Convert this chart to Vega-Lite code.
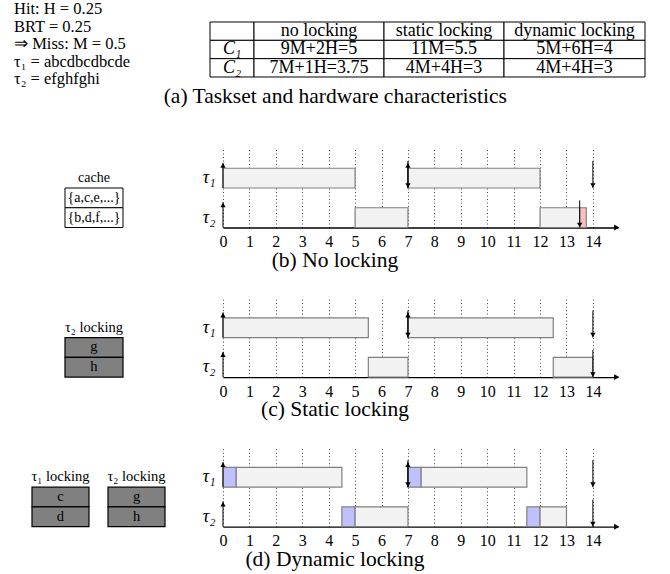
{
  "$schema": "https://vega.github.io/schema/vega-lite/v6.json",
  "background": "white",
  "padding": 0,
  "config": {
    "view": {"stroke": null, "fill": "white"},
    "font": "Liberation Serif",
    "text": {"font": "Liberation Serif", "color": "black"},
    "title": {"font": "Liberation Serif", "fontWeight": "normal", "color": "black", "fontSize": 21.5},
    "axisX": {"grid": true, "gridDash": [1, 2.5], "gridColor": "#444", "gridWidth": 1, "domainColor": "black", "domainWidth": 1.3, "ticks": false, "tickSize": 0, "tickCount": 15, "labelPadding": 6, "labelFontSize": 16, "labelFont": "Liberation Serif", "labelColor": "black", "labelFlush": false, "labelOverlap": false, "zindex": 1},
    "axisY": {"domain": false, "ticks": false, "tickSize": 0, "grid": false, "labelPadding": 8, "labelFontSize": 18, "labelFontStyle": "italic", "labelFont": "Liberation Serif", "labelColor": "black"}
  },
  "datasets": {
    "lines": [
      {"i": 1, "text": "Hit: H = 0.25"},
      {"i": 2, "text": "BRT = 0.25"},
      {"i": 3, "text": "⇒ Miss: M = 0.5"},
      {"i": 4, "text": "τ₁ = abcdbcdbcde"},
      {"i": 5, "text": "τ₂ = efghfghi"}
    ],
    "table": [
      {"row": "h", "col": 0, "text": ""},
      {"row": "c1", "col": 0, "text": "C₁"},
      {"row": "c2", "col": 0, "text": "C₂"},
      {"row": "h", "col": 1, "text": "no locking"},
      {"row": "c1", "col": 1, "text": "9M+2H=5"},
      {"row": "c2", "col": 1, "text": "7M+1H=3.75"},
      {"row": "h", "col": 2, "text": "static locking"},
      {"row": "c1", "col": 2, "text": "11M=5.5"},
      {"row": "c2", "col": 2, "text": "4M+4H=3"},
      {"row": "h", "col": 3, "text": "dynamic locking"},
      {"row": "c1", "col": 3, "text": "5M+6H=4"},
      {"row": "c2", "col": 3, "text": "4M+4H=3"}
    ],
    "bars": [
      {"panel": "b", "task": "τ₁", "t": 0, "t2": 5, "kind": "normal"},
      {"panel": "b", "task": "τ₁", "t": 7, "t2": 12, "kind": "normal"},
      {"panel": "b", "task": "τ₂", "t": 5, "t2": 7, "kind": "normal"},
      {"panel": "b", "task": "τ₂", "t": 12, "t2": 13.5, "kind": "normal"},
      {"panel": "b", "task": "τ₂", "t": 13.5, "t2": 13.75, "kind": "miss"},
      {"panel": "c", "task": "τ₁", "t": 0, "t2": 5.5, "kind": "normal"},
      {"panel": "c", "task": "τ₁", "t": 7, "t2": 12.5, "kind": "normal"},
      {"panel": "c", "task": "τ₂", "t": 5.5, "t2": 7, "kind": "normal"},
      {"panel": "c", "task": "τ₂", "t": 12.5, "t2": 14, "kind": "normal"},
      {"panel": "d", "task": "τ₁", "t": 0, "t2": 0.5, "kind": "lock"},
      {"panel": "d", "task": "τ₁", "t": 0.5, "t2": 4.5, "kind": "normal"},
      {"panel": "d", "task": "τ₁", "t": 7, "t2": 7.5, "kind": "lock"},
      {"panel": "d", "task": "τ₁", "t": 7.5, "t2": 11.5, "kind": "normal"},
      {"panel": "d", "task": "τ₂", "t": 4.5, "t2": 5, "kind": "lock"},
      {"panel": "d", "task": "τ₂", "t": 5, "t2": 7, "kind": "normal"},
      {"panel": "d", "task": "τ₂", "t": 11.5, "t2": 12, "kind": "lock"},
      {"panel": "d", "task": "τ₂", "t": 12, "t2": 13, "kind": "normal"}
    ],
    "events": [
      {"panel": "b", "task": "τ₁", "t": 0, "kind": "release"},
      {"panel": "b", "task": "τ₁", "t": 7, "kind": "release"},
      {"panel": "b", "task": "τ₁", "t": 7, "kind": "deadline"},
      {"panel": "b", "task": "τ₁", "t": 14, "kind": "deadline"},
      {"panel": "b", "task": "τ₂", "t": 0, "kind": "release"},
      {"panel": "b", "task": "τ₂", "t": 13.5, "kind": "deadline"},
      {"panel": "c", "task": "τ₁", "t": 0, "kind": "release"},
      {"panel": "c", "task": "τ₁", "t": 7, "kind": "release"},
      {"panel": "c", "task": "τ₁", "t": 7, "kind": "deadline"},
      {"panel": "c", "task": "τ₁", "t": 14, "kind": "deadline"},
      {"panel": "c", "task": "τ₂", "t": 0, "kind": "release"},
      {"panel": "c", "task": "τ₂", "t": 14, "kind": "deadline"},
      {"panel": "d", "task": "τ₁", "t": 0, "kind": "release"},
      {"panel": "d", "task": "τ₁", "t": 7, "kind": "release"},
      {"panel": "d", "task": "τ₁", "t": 7, "kind": "deadline"},
      {"panel": "d", "task": "τ₁", "t": 14, "kind": "deadline"},
      {"panel": "d", "task": "τ₂", "t": 0, "kind": "release"},
      {"panel": "d", "task": "τ₂", "t": 14, "kind": "deadline"}
    ],
    "cache": [
      {"panel": "b", "block": "cache", "slot": "title", "label": "cache"},
      {"panel": "b", "block": "cache", "slot": "top", "label": "{a,c,e,...}"},
      {"panel": "b", "block": "cache", "slot": "bottom", "label": "{b,d,f,...}"},
      {"panel": "c", "block": "τ₂ locking", "slot": "title", "label": "τ₂ locking"},
      {"panel": "c", "block": "τ₂ locking", "slot": "top", "label": "g"},
      {"panel": "c", "block": "τ₂ locking", "slot": "bottom", "label": "h"},
      {"panel": "d", "block": "τ₁ locking", "slot": "title", "label": "τ₁ locking"},
      {"panel": "d", "block": "τ₁ locking", "slot": "top", "label": "c"},
      {"panel": "d", "block": "τ₁ locking", "slot": "bottom", "label": "d"},
      {"panel": "d", "block": "τ₂ locking", "slot": "title", "label": "τ₂ locking"},
      {"panel": "d", "block": "τ₂ locking", "slot": "top", "label": "g"},
      {"panel": "d", "block": "τ₂ locking", "slot": "bottom", "label": "h"}
    ]
  },
  "spacing": 40.5,
  "vconcat": [
    {
      "spacing": 0,
      "bounds": "flush",
      "title": {"text": "(a) Taskset and hardware characteristics", "orient": "bottom", "anchor": "middle", "frame": "bounds", "offset": -1.5, "dx": 12.5},
      "hconcat": [
        {
          "width": 210, "height": 79.4,
          "data": {"name": "lines"},
          "mark": {"type": "text", "align": "left", "baseline": "middle", "fontSize": 16.5},
          "encoding": {
            "y": {"field": "i", "type": "ordinal", "scale": {"type": "point", "padding": 0.269, "align": 1}, "axis": null},
            "x": {"value": 14},
            "text": {"field": "text"}
          }
        },
        {
          "width": 44, "height": 79.4,
          "data": {"name": "table"},
          "transform": [{"filter": "datum.col === 0"}],
          "encoding": {
            "x": {"field": "col", "type": "nominal", "scale": {"type": "band", "paddingInner": 0, "paddingOuter": 0}, "axis": null},
            "y": {"field": "row", "type": "nominal", "scale": {"type": "band", "domain": ["h", "c1", "c2"], "paddingInner": 0, "paddingOuter": 0.6655, "align": 0.9016}, "axis": null}
          },
          "layer": [
            {"mark": {"type": "rect", "fill": "white", "stroke": "black", "strokeWidth": 1}},
            {"mark": {"type": "text", "fontSize": 18, "fontStyle": "italic", "baseline": "middle"}, "encoding": {"text": {"field": "text"}}}
          ]
        },
        {
          "width": 130, "height": 79.4,
          "data": {"name": "table"},
          "transform": [{"filter": "datum.col === 1"}],
          "encoding": {
            "x": {"field": "col", "type": "nominal", "scale": {"type": "band", "paddingInner": 0, "paddingOuter": 0}, "axis": null},
            "y": {"field": "row", "type": "nominal", "scale": {"type": "band", "domain": ["h", "c1", "c2"], "paddingInner": 0, "paddingOuter": 0.6655, "align": 0.9016}, "axis": null}
          },
          "layer": [
            {"mark": {"type": "rect", "fill": "white", "stroke": "black", "strokeWidth": 1}},
            {"mark": {"type": "text", "fontSize": 18, "baseline": "middle"}, "encoding": {"text": {"field": "text"}}}
          ]
        },
        {
          "width": 120, "height": 79.4,
          "data": {"name": "table"},
          "transform": [{"filter": "datum.col === 2"}],
          "encoding": {
            "x": {"field": "col", "type": "nominal", "scale": {"type": "band", "paddingInner": 0, "paddingOuter": 0}, "axis": null},
            "y": {"field": "row", "type": "nominal", "scale": {"type": "band", "domain": ["h", "c1", "c2"], "paddingInner": 0, "paddingOuter": 0.6655, "align": 0.9016}, "axis": null}
          },
          "layer": [
            {"mark": {"type": "rect", "fill": "white", "stroke": "black", "strokeWidth": 1}},
            {"mark": {"type": "text", "fontSize": 18, "baseline": "middle"}, "encoding": {"text": {"field": "text"}}}
          ]
        },
        {
          "width": 141, "height": 79.4,
          "data": {"name": "table"},
          "transform": [{"filter": "datum.col === 3"}],
          "encoding": {
            "x": {"field": "col", "type": "nominal", "scale": {"type": "band", "paddingInner": 0, "paddingOuter": 0}, "axis": null},
            "y": {"field": "row", "type": "nominal", "scale": {"type": "band", "domain": ["h", "c1", "c2"], "paddingInner": 0, "paddingOuter": 0.6655, "align": 0.9016}, "axis": null}
          },
          "layer": [
            {"mark": {"type": "rect", "fill": "white", "stroke": "black", "strokeWidth": 1}},
            {"mark": {"type": "text", "fontSize": 18, "baseline": "middle"}, "encoding": {"text": {"field": "text"}}}
          ]
        }
      ]
    },
    {
      "spacing": 26.6,
      "vconcat": [
        {
          "spacing": 26,
          "bounds": "flush",
          "hconcat": [
            {
              "width": 197, "height": 79,
              "data": {"name": "cache"},
              "transform": [{"filter": "datum.panel === 'b'"}],
              "encoding": {
                "x": {"field": "block", "type": "nominal", "scale": {"type": "band", "paddingInner": 0.1655, "paddingOuter": 1, "align": 0.4676}, "axis": null},
                "y": {"field": "slot", "type": "nominal", "scale": {"type": "band", "domain": ["title", "top", "bottom"], "paddingInner": 0, "paddingOuter": 0.5, "align": 1}, "axis": null}
              },
              "layer": [
                {"transform": [{"filter": "datum.slot !== 'title'"}], "mark": {"type": "rect", "fill": "white", "stroke": "black", "strokeWidth": 1}},
                {"mark": {"type": "text", "fontSize": 14, "baseline": "middle"}, "encoding": {"text": {"field": "label"}}}
              ]
            },
            {
              "width": 395, "height": 79,
              "title": {"text": "(b) No locking", "orient": "bottom", "anchor": "middle", "frame": "group", "offset": 0, "dx": -85.5},
              "layer": [
                {
                  "data": {"name": "bars"},
                  "transform": [{"filter": "datum.panel === 'b'"}],
                  "mark": {"type": "rect", "stroke": "#808080", "strokeWidth": 1.2},
                  "encoding": {
                    "x": {"field": "t", "type": "quantitative", "scale": {"domain": [0, 14.95], "nice": false, "zero": false}, "axis": {"title": null}},
                    "x2": {"field": "t2"},
                    "y": {"field": "task", "type": "nominal", "scale": {"type": "band", "domain": ["τ₁", "τ₂"], "paddingInner": 0.5, "paddingOuter": 0.25, "align": 1}, "axis": {"title": null}},
                    "fill": {"field": "kind", "type": "nominal", "scale": {"domain": ["normal", "miss", "lock"], "range": ["#f2f2f2", "#ffbfbf", "#c0c0ff"]}, "legend": null}
                  }
                },
                {
                  "data": {"name": "events"},
                  "transform": [{"filter": "datum.panel === 'b' && datum.kind === 'release'"}],
                  "mark": {"type": "rule", "color": "black", "strokeWidth": 1},
                  "encoding": {"x": {"field": "t", "type": "quantitative", "axis": {"title": null}}, "y": {"field": "task", "type": "nominal", "bandPosition": 1, "axis": {"title": null}}, "y2": {"field": "task", "bandPosition": -0.28}}
                },
                {
                  "data": {"name": "events"},
                  "transform": [{"filter": "datum.panel === 'b' && datum.kind === 'release'"}],
                  "mark": {"type": "point", "shape": "triangle-up", "filled": true, "color": "black", "opacity": 1, "size": 28},
                  "encoding": {"x": {"field": "t", "type": "quantitative", "axis": {"title": null}}, "y": {"field": "task", "type": "nominal", "bandPosition": -0.14, "axis": {"title": null}}}
                },
                {
                  "data": {"name": "events"},
                  "transform": [{"filter": "datum.panel === 'b' && datum.kind === 'deadline'"}],
                  "mark": {"type": "rule", "color": "black", "strokeWidth": 1},
                  "encoding": {"x": {"field": "t", "type": "quantitative", "axis": {"title": null}}, "y": {"field": "task", "type": "nominal", "bandPosition": -0.37, "axis": {"title": null}}, "y2": {"field": "task", "bandPosition": 1}}
                },
                {
                  "data": {"name": "events"},
                  "transform": [{"filter": "datum.panel === 'b' && datum.kind === 'deadline'"}],
                  "mark": {"type": "point", "shape": "triangle-down", "filled": true, "color": "black", "opacity": 1, "size": 28},
                  "encoding": {"x": {"field": "t", "type": "quantitative", "axis": {"title": null}}, "y": {"field": "task", "type": "nominal", "bandPosition": 0.87, "axis": {"title": null}}}
                },
                {
                  "data": {"values": [{}]},
                  "mark": {"type": "point", "shape": "triangle-right", "filled": true, "color": "black", "opacity": 1, "size": 35},
                  "encoding": {"x": {"datum": 14.9, "axis": {"title": null}}, "y": {"datum": "τ₂", "bandPosition": 1, "axis": {"title": null}}}
                }
              ]
            }
          ]
        },
        {
          "spacing": 26,
          "bounds": "flush",
          "hconcat": [
            {
              "width": 197, "height": 79,
              "data": {"name": "cache"},
              "transform": [{"filter": "datum.panel === 'c'"}],
              "encoding": {
                "x": {"field": "block", "type": "nominal", "scale": {"type": "band", "paddingInner": 0.1655, "paddingOuter": 1, "align": 0.4676}, "axis": null},
                "y": {"field": "slot", "type": "nominal", "scale": {"type": "band", "domain": ["title", "top", "bottom"], "paddingInner": 0, "paddingOuter": 0.5, "align": 1}, "axis": null}
              },
              "layer": [
                {"transform": [{"filter": "datum.slot !== 'title'"}], "mark": {"type": "rect", "fill": "#808080", "stroke": "black", "strokeWidth": 1.2}},
                {"mark": {"type": "text", "fontSize": 14.5, "baseline": "middle"}, "encoding": {"text": {"field": "label"}}}
              ]
            },
            {
              "width": 395, "height": 79,
              "title": {"text": "(c) Static locking", "orient": "bottom", "anchor": "middle", "frame": "group", "offset": 0, "dx": -85.5},
              "layer": [
                {
                  "data": {"name": "bars"},
                  "transform": [{"filter": "datum.panel === 'c'"}],
                  "mark": {"type": "rect", "stroke": "#808080", "strokeWidth": 1.2},
                  "encoding": {
                    "x": {"field": "t", "type": "quantitative", "scale": {"domain": [0, 14.95], "nice": false, "zero": false}, "axis": {"title": null}},
                    "x2": {"field": "t2"},
                    "y": {"field": "task", "type": "nominal", "scale": {"type": "band", "domain": ["τ₁", "τ₂"], "paddingInner": 0.5, "paddingOuter": 0.25, "align": 1}, "axis": {"title": null}},
                    "fill": {"field": "kind", "type": "nominal", "scale": {"domain": ["normal", "miss", "lock"], "range": ["#f2f2f2", "#ffbfbf", "#c0c0ff"]}, "legend": null}
                  }
                },
                {
                  "data": {"name": "events"},
                  "transform": [{"filter": "datum.panel === 'c' && datum.kind === 'release'"}],
                  "mark": {"type": "rule", "color": "black", "strokeWidth": 1},
                  "encoding": {"x": {"field": "t", "type": "quantitative", "axis": {"title": null}}, "y": {"field": "task", "type": "nominal", "bandPosition": 1, "axis": {"title": null}}, "y2": {"field": "task", "bandPosition": -0.28}}
                },
                {
                  "data": {"name": "events"},
                  "transform": [{"filter": "datum.panel === 'c' && datum.kind === 'release'"}],
                  "mark": {"type": "point", "shape": "triangle-up", "filled": true, "color": "black", "opacity": 1, "size": 28},
                  "encoding": {"x": {"field": "t", "type": "quantitative", "axis": {"title": null}}, "y": {"field": "task", "type": "nominal", "bandPosition": -0.14, "axis": {"title": null}}}
                },
                {
                  "data": {"name": "events"},
                  "transform": [{"filter": "datum.panel === 'c' && datum.kind === 'deadline'"}],
                  "mark": {"type": "rule", "color": "black", "strokeWidth": 1},
                  "encoding": {"x": {"field": "t", "type": "quantitative", "axis": {"title": null}}, "y": {"field": "task", "type": "nominal", "bandPosition": -0.37, "axis": {"title": null}}, "y2": {"field": "task", "bandPosition": 1}}
                },
                {
                  "data": {"name": "events"},
                  "transform": [{"filter": "datum.panel === 'c' && datum.kind === 'deadline'"}],
                  "mark": {"type": "point", "shape": "triangle-down", "filled": true, "color": "black", "opacity": 1, "size": 28},
                  "encoding": {"x": {"field": "t", "type": "quantitative", "axis": {"title": null}}, "y": {"field": "task", "type": "nominal", "bandPosition": 0.87, "axis": {"title": null}}}
                },
                {
                  "data": {"values": [{}]},
                  "mark": {"type": "point", "shape": "triangle-right", "filled": true, "color": "black", "opacity": 1, "size": 35},
                  "encoding": {"x": {"datum": 14.9, "axis": {"title": null}}, "y": {"datum": "τ₂", "bandPosition": 1, "axis": {"title": null}}}
                }
              ]
            }
          ]
        },
        {
          "spacing": 26,
          "bounds": "flush",
          "hconcat": [
            {
              "width": 197, "height": 79,
              "data": {"name": "cache"},
              "transform": [{"filter": "datum.panel === 'd'"}],
              "encoding": {
                "x": {"field": "block", "type": "nominal", "scale": {"type": "band", "domain": ["τ₁ locking", "τ₂ locking"], "paddingInner": 0.25, "paddingOuter": 0.421, "align": 0.5}, "axis": null},
                "y": {"field": "slot", "type": "nominal", "scale": {"type": "band", "domain": ["title", "top", "bottom"], "paddingInner": 0, "paddingOuter": 0.5, "align": 1}, "axis": null}
              },
              "layer": [
                {"transform": [{"filter": "datum.slot !== 'title'"}], "mark": {"type": "rect", "fill": "#808080", "stroke": "black", "strokeWidth": 1.2}},
                {"mark": {"type": "text", "fontSize": 14.5, "baseline": "middle"}, "encoding": {"text": {"field": "label"}}}
              ]
            },
            {
              "width": 395, "height": 79,
              "title": {"text": "(d) Dynamic locking", "orient": "bottom", "anchor": "middle", "frame": "group", "offset": 0, "dx": -85.5},
              "layer": [
                {
                  "data": {"name": "bars"},
                  "transform": [{"filter": "datum.panel === 'd'"}],
                  "mark": {"type": "rect", "stroke": "#808080", "strokeWidth": 1.2},
                  "encoding": {
                    "x": {"field": "t", "type": "quantitative", "scale": {"domain": [0, 14.95], "nice": false, "zero": false}, "axis": {"title": null}},
                    "x2": {"field": "t2"},
                    "y": {"field": "task", "type": "nominal", "scale": {"type": "band", "domain": ["τ₁", "τ₂"], "paddingInner": 0.5, "paddingOuter": 0.25, "align": 1}, "axis": {"title": null}},
                    "fill": {"field": "kind", "type": "nominal", "scale": {"domain": ["normal", "miss", "lock"], "range": ["#f2f2f2", "#ffbfbf", "#c0c0ff"]}, "legend": null}
                  }
                },
                {
                  "data": {"name": "events"},
                  "transform": [{"filter": "datum.panel === 'd' && datum.kind === 'release'"}],
                  "mark": {"type": "rule", "color": "black", "strokeWidth": 1},
                  "encoding": {"x": {"field": "t", "type": "quantitative", "axis": {"title": null}}, "y": {"field": "task", "type": "nominal", "bandPosition": 1, "axis": {"title": null}}, "y2": {"field": "task", "bandPosition": -0.28}}
                },
                {
                  "data": {"name": "events"},
                  "transform": [{"filter": "datum.panel === 'd' && datum.kind === 'release'"}],
                  "mark": {"type": "point", "shape": "triangle-up", "filled": true, "color": "black", "opacity": 1, "size": 28},
                  "encoding": {"x": {"field": "t", "type": "quantitative", "axis": {"title": null}}, "y": {"field": "task", "type": "nominal", "bandPosition": -0.14, "axis": {"title": null}}}
                },
                {
                  "data": {"name": "events"},
                  "transform": [{"filter": "datum.panel === 'd' && datum.kind === 'deadline'"}],
                  "mark": {"type": "rule", "color": "black", "strokeWidth": 1},
                  "encoding": {"x": {"field": "t", "type": "quantitative", "axis": {"title": null}}, "y": {"field": "task", "type": "nominal", "bandPosition": -0.37, "axis": {"title": null}}, "y2": {"field": "task", "bandPosition": 1}}
                },
                {
                  "data": {"name": "events"},
                  "transform": [{"filter": "datum.panel === 'd' && datum.kind === 'deadline'"}],
                  "mark": {"type": "point", "shape": "triangle-down", "filled": true, "color": "black", "opacity": 1, "size": 28},
                  "encoding": {"x": {"field": "t", "type": "quantitative", "axis": {"title": null}}, "y": {"field": "task", "type": "nominal", "bandPosition": 0.87, "axis": {"title": null}}}
                },
                {
                  "data": {"values": [{}]},
                  "mark": {"type": "point", "shape": "triangle-right", "filled": true, "color": "black", "opacity": 1, "size": 35},
                  "encoding": {"x": {"datum": 14.9, "axis": {"title": null}}, "y": {"datum": "τ₂", "bandPosition": 1, "axis": {"title": null}}}
                }
              ]
            }
          ]
        }
      ]
    }
  ]
}
